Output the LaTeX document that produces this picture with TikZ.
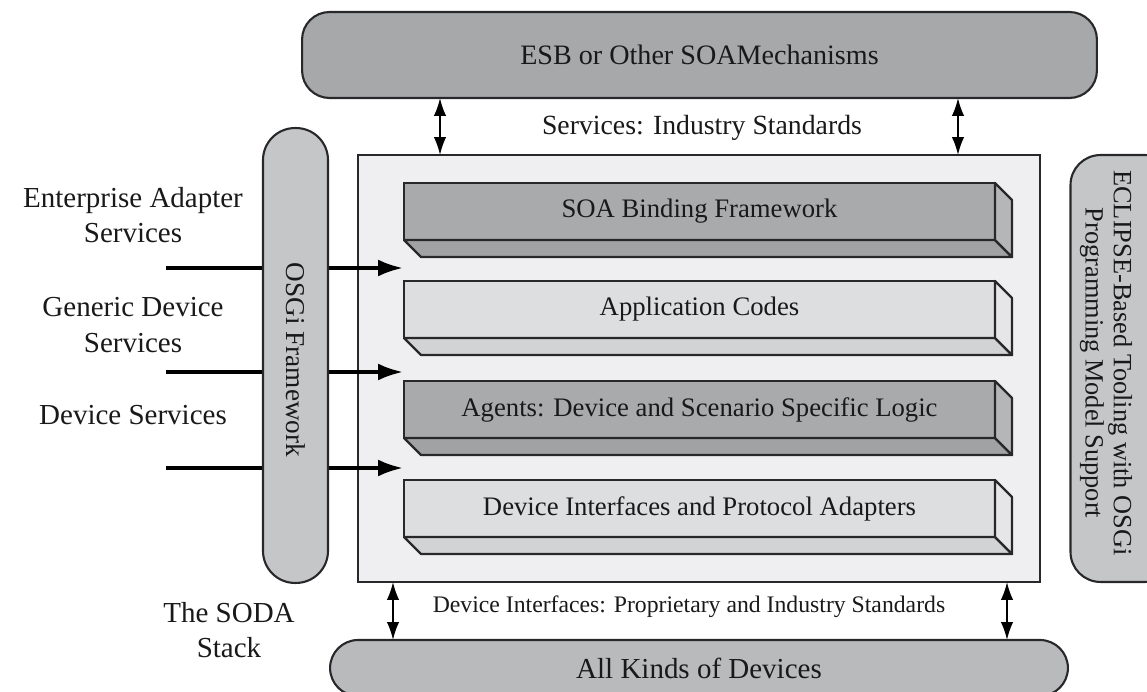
\documentclass[tikz,border=0pt]{standalone}
\usepackage{fontspec}
\setmainfont{Liberation Serif}
\usetikzlibrary{arrows.meta}

\definecolor{edgegray}{RGB}{40,40,42}
\definecolor{esbgray}{RGB}{166,168,170}
\definecolor{osgigray}{RGB}{196,198,200}
\definecolor{boxgray}{RGB}{239,239,241}
\definecolor{bardark}{RGB}{168,170,172}
\definecolor{bardarkbot}{RGB}{160,162,164}
\definecolor{bardarkside}{RGB}{180,182,184}
\definecolor{barlight}{RGB}{221,222,224}
\definecolor{barlightbot}{RGB}{210,211,213}
\definecolor{barlightside}{RGB}{230,230,232}
\definecolor{inkgray}{RGB}{25,25,25}

\begin{document}
\begin{tikzpicture}[x=0.02cm,y=-0.02cm,
  pill/.style={draw=edgegray,line width=1.2pt,inner sep=0pt,outer sep=0pt},
  lbl/.style={font=\fontsize{16.5}{20}\selectfont,text=inkgray,align=center,inner sep=0pt},
  front/.style={draw=edgegray,line width=1.3pt,minimum width=11.82cm,minimum height=1.14cm,
    inner sep=0pt,outer sep=0pt,font=\fontsize{15.2}{18}\selectfont,text=inkgray},
  darkbar/.style={front,fill=bardark},
  lightbar/.style={front,fill=barlight},
  face/.style={draw=edgegray,line width=1.3pt,line join=round},
  dbl/.style={{Latex[length=0.36cm,width=0.25cm]}-{Latex[length=0.36cm,width=0.25cm]},line width=1.1pt},
  feed/.style={-{Latex[length=0.5cm,width=0.34cm]},line width=2pt}]
\useasboundingbox (0,0) rectangle (1147,692);
\clip (0,0) rectangle (1147,692);

% top and frame
\node[pill,fill=esbgray,rounded corners=0.55cm,minimum width=15.9cm,minimum height=1.72cm,
  font=\fontsize{16}{19}\selectfont,text=inkgray] (esb) at (699.5,55) {ESB or Other SOAMechanisms};
\node[draw=edgegray,line width=1pt,fill=boxgray,minimum width=13.64cm,minimum height=8.54cm,
  inner sep=0pt,outer sep=0pt] (soda) at (699,368.5) {};
\node[pill,fill=osgigray,rounded corners=0.6cm,minimum width=2.1cm,minimum height=8.54cm] (eclipse) at (1123,368.5) {};
\node[font=\fontsize{15}{16}\selectfont,text=inkgray,align=center,rotate=-90] (eclipsetxt) at (1106,363)
  {ECLIPSE-Based Tooling with OSGi\\Programming Model Support};

% the four layers
\node[darkbar] (bar1) at (699.5,211.5) {SOA Binding Framework};
\draw[face,fill=bardarkbot] (bar1.south west) -- ++(17,17) -- ++(591,0) -- (bar1.south east) -- cycle;
\draw[face,fill=bardarkside] (bar1.north east) -- ++(17,17) -- ++(0,57) -- (bar1.south east) -- cycle;
\node[lightbar] (bar2) at (699.5,309.5) {Application Codes};
\draw[face,fill=barlightbot] (bar2.south west) -- ++(17,17) -- ++(591,0) -- (bar2.south east) -- cycle;
\draw[face,fill=barlightside] (bar2.north east) -- ++(17,17) -- ++(0,57) -- (bar2.south east) -- cycle;
\node[darkbar] (bar3) at (699.5,409.5) {Agents: Device and Scenario Specific Logic};
\draw[face,fill=bardarkbot] (bar3.south west) -- ++(17,17) -- ++(591,0) -- (bar3.south east) -- cycle;
\draw[face,fill=bardarkside] (bar3.north east) -- ++(17,17) -- ++(0,57) -- (bar3.south east) -- cycle;
\node[lightbar] (bar4) at (699.5,508.5) {Device Interfaces and Protocol Adapters};
\draw[face,fill=barlightbot] (bar4.south west) -- ++(17,17) -- ++(591,0) -- (bar4.south east) -- cycle;
\draw[face,fill=barlightside] (bar4.north east) -- ++(17,17) -- ++(0,57) -- (bar4.south east) -- cycle;

% service inputs
\coordinate (in1) at (166,268);
\coordinate (in2) at (166,372);
\coordinate (in3) at (166,468);
\coordinate (gap1) at (403,268);
\coordinate (gap2) at (403,372);
\coordinate (gap3) at (403,468);
\draw[feed] (in1) -- (gap1);
\draw[feed] (in2) -- (gap2);
\draw[feed] (in3) -- (gap3);
\node[pill,fill=osgigray,rounded corners=0.64cm,minimum width=1.3cm,minimum height=9.1cm] (osgi) at (295.5,355.5) {};
\node[font=\fontsize{15.5}{18}\selectfont,text=inkgray,rotate=-90] (osgitxt) at (296,360) {OSGi Framework};

% devices
\node[pill,fill=osgigray!94!black,rounded corners=0.56cm,minimum width=14.76cm,minimum height=1.12cm,
  font=\fontsize{16.5}{19}\selectfont,text=inkgray] (devices) at (699,668) {All Kinds of Devices};

\draw[dbl] (esb.south -| 440,0) -- (soda.north -| 440,0);
\draw[dbl] (esb.south -| 958,0) -- (soda.north -| 958,0);
\draw[dbl] (soda.south -| 393,0) -- (devices.north -| 393,0);
\draw[dbl] (soda.south -| 1007,0) -- (devices.north -| 1007,0);

% labels
\node[lbl,font=\fontsize{15.8}{19}\selectfont] (servstd) at (702,128) {Services: Industry Standards};
\node[lbl,font=\fontsize{13.5}{16}\selectfont] (devstd) at (689,607) {Device Interfaces: Proprietary and Industry Standards};
\node[lbl] (entserv) at (133,215) {Enterprise Adapter\\Services};
\node[lbl] (genserv) at (133,325) {Generic Device\\Services};
\node[lbl] (devserv) at (133,415) {Device Services};
\node[lbl] (stack) at (229,630) {The SODA\\Stack};
\end{tikzpicture}
\end{document}
